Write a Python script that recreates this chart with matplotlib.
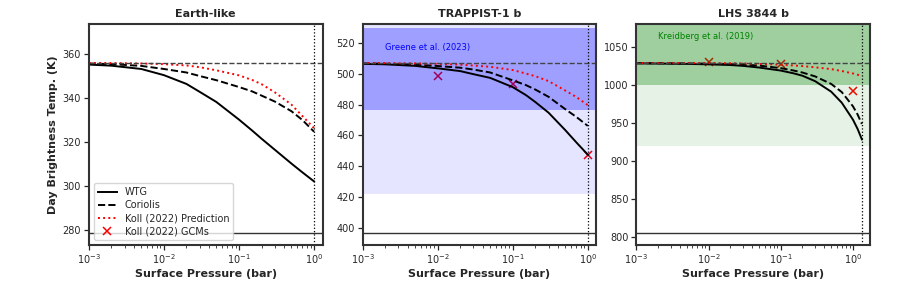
import numpy as np
import matplotlib
matplotlib.use("Agg")
import matplotlib.pyplot as plt

# ---- data ----
titles = ["Earth-like", "TRAPPIST-1 b", "LHS 3844 b"]

# surface pressure grid (bar)
p_grid = [1e-3, 2e-3, 5e-3, 1e-2, 2e-2, 3e-2, 5e-2, 0.1, 0.15, 0.2, 0.3, 0.5, 0.7, 1.0]
p_grid_lhs = p_grid + [1.16, 1.33]

# Earth-like
earth_wtg = [355.0, 354.5, 353.0, 350.2, 346.2, 342.6, 338.0, 330.0, 325.0, 321.3, 316.3, 310.0, 306.0, 301.9]
earth_cor = [355.5, 355.2, 354.4, 353.0, 351.4, 349.8, 347.9, 344.8, 342.8, 340.9, 338.2, 333.8, 329.8, 324.5]
earth_koll = [355.7, 355.7, 355.5, 355.2, 354.6, 353.8, 352.4, 350.1, 348.0, 346.1, 342.4, 336.8, 331.6, 326.1]

# TRAPPIST-1 b
t1b_wtg = [506.5, 506.2, 505.2, 503.6, 501.8, 499.8, 497.4, 491.4, 486.2, 481.7, 474.8, 463.5, 455.6, 447.5]
t1b_cor = [506.8, 506.6, 506.0, 505.1, 504.0, 502.8, 500.9, 495.8, 492.7, 489.8, 485.1, 477.1, 472.1, 466.2]
t1b_koll = [507.0, 507.0, 506.8, 506.5, 506.0, 505.4, 504.6, 502.5, 500.2, 498.5, 495.3, 489.2, 485.0, 479.7]

# LHS 3844 b
lhs_wtg = [1028.3, 1028.0, 1027.6, 1027.0, 1026.1, 1025.0, 1022.8, 1018.8, 1015.2, 1012.0, 1004.8,
           991.0, 976.5, 954.2, 942.0, 928.2]
lhs_cor = [1028.5, 1028.4, 1028.2, 1027.9, 1027.3, 1026.6, 1025.4, 1022.0, 1018.9, 1016.2, 1011.1,
           1001.2, 990.5, 971.8, 961.0, 948.5]
lhs_koll = [1028.7, 1028.7, 1028.7, 1028.6, 1028.4, 1028.2, 1027.6, 1026.5, 1025.5, 1024.7, 1023.1,
            1020.7, 1018.2, 1015.0, 1013.3, 1011.4]

# Koll (2022) GCM points
gcm_p = [0.01, 0.1, 1.0]
t1b_gcm = [498.7, 493.3, 447.5]
lhs_gcm = [1029.5, 1026.8, 992.1]

# bare-rock (upper) and fully redistributed (lower) limits
t_high = [355.7, 507.1, 1028.8]
t_low = [278.6, 396.8, 805.3]
p_max = [1.0, 1.0, 1.33]

# observations: (1-sigma band, 3-sigma band)
obs_t1b = {"sig1": (476.5, 529.5), "sig3": (422.0, 584.0)}
obs_lhs = {"sig1": (1000.0, 1080.0), "sig3": (920.0, 1160.0)}

txt_color = "#262626"
plt.rcParams["font.family"] = ["DejaVu Sans"]
plt.rcParams["text.color"] = txt_color
plt.rcParams["axes.labelcolor"] = txt_color
plt.rcParams["xtick.color"] = txt_color
plt.rcParams["ytick.color"] = txt_color

fig, axes = plt.subplots(1, 3, figsize=(8.97, 2.99), dpi=100)
fig.subplots_adjust(left=0.099, right=0.970, bottom=0.181, top=0.920, wspace=0.171)

series = [
    (p_grid, earth_wtg, earth_cor, earth_koll),
    (p_grid, t1b_wtg, t1b_cor, t1b_koll),
    (p_grid_lhs, lhs_wtg, lhs_cor, lhs_koll),
]

for i, ax in enumerate(axes):
    p, wtg, cor, koll = series[i]

    # GCM markers below the observation bands so the bands tint them
    if i == 1:
        ax.plot(gcm_p, t1b_gcm, ls="none", marker="x", color="red", ms=6, mew=1.1, zorder=0.8)
    if i == 2:
        ax.plot(gcm_p, lhs_gcm, ls="none", marker="x", color="red", ms=6, mew=1.1, zorder=0.8)

    if i == 1:
        ax.axhspan(*obs_t1b["sig3"], color="blue", alpha=0.1, lw=0, zorder=1)
        ax.axhspan(*obs_t1b["sig1"], color="blue", alpha=0.3, lw=0, zorder=1)
        ax.text(2e-3, 517, "Greene et al. (2023)", color="blue", fontsize=6, va="center")
    if i == 2:
        ax.axhspan(*obs_lhs["sig3"], color="green", alpha=0.1, lw=0, zorder=1)
        ax.axhspan(*obs_lhs["sig1"], color="green", alpha=0.3, lw=0, zorder=1)
        ax.text(2e-3, 1064, "Kreidberg et al. (2019)", color="green", fontsize=6, va="center")

    ax.plot(p, wtg, color="black", lw=1.4, ls="-", label="WTG")
    ax.plot(p, cor, color="black", lw=1.4, ls="--", label="Coriolis")
    ax.plot(p, koll, color="red", lw=1.4, ls=":", label="Koll (2022) Prediction")

    ax.axhline(t_high[i], color="#444444", lw=1.0, ls="--")
    ax.axhline(t_low[i], color="#333333", lw=1.0, ls="-")
    ax.axvline(p_max[i], color="black", lw=0.9, ls=":")

    ax.set_xscale("log")
    ax.set_xlim(1e-3, 1.3 * p_max[i])
    ax.set_ylim(0.98 * t_low[i], 1.05 * t_high[i])
    ax.set_title(titles[i], fontsize=8, fontweight="bold", pad=5)
    ax.set_xlabel("Surface Pressure (bar)", fontsize=8, fontweight="bold", labelpad=2)
    ax.tick_params(axis="both", which="major", labelsize=7, length=3.5, width=0.9, pad=2)
    ax.tick_params(axis="x", which="minor", length=2, width=0.6)
    for s in ax.spines.values():
        s.set_linewidth(1.5)
        s.set_color("#333333")

axes[0].set_ylabel("Day Brightness Temp. (K)", fontsize=8, fontweight="bold", labelpad=3)

# legend entry for the GCM points
axes[0].plot([], [], ls="none", marker="x", color="red", ms=6, mew=1.1, label="Koll (2022) GCMs")
axes[0].legend(loc="lower left", fontsize=7, frameon=True, framealpha=0.8, edgecolor="#cccccc",
               borderpad=0.4, labelspacing=0.3, handlelength=2.0)

fig.savefig("out.png", dpi=100)
